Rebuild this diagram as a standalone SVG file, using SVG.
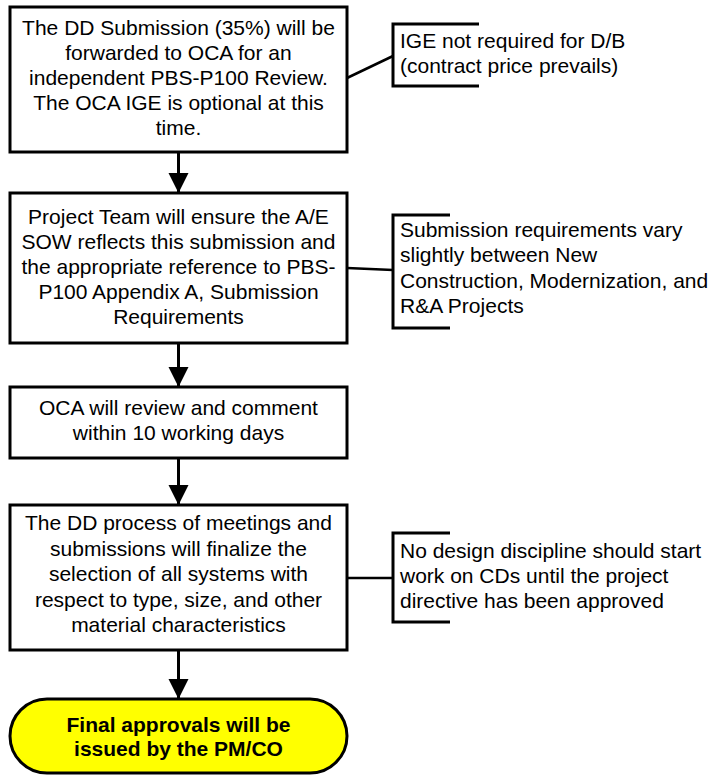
<svg xmlns="http://www.w3.org/2000/svg" width="716" height="775" viewBox="0 0 716 775">
<style>
.box{fill:#fff;stroke:#000;stroke-width:3}
.term{fill:#ffff00;stroke:#000;stroke-width:3}
.t{font-family:"Liberation Sans",Arial,sans-serif;font-size:21px;fill:#000}
.c{text-anchor:middle}
.b{font-weight:bold}
.br{fill:none;stroke:#000;stroke-width:3}
.ln{fill:none;stroke:#000;stroke-width:2.5}
.ar{fill:none;stroke:#000;stroke-width:3}
</style>
<defs>
<marker id="ah" markerUnits="userSpaceOnUse" markerWidth="22" markerHeight="22" refX="20" refY="10" orient="auto">
<path d="M0,0 L20,10 L0,20 Z" fill="#000"/>
</marker>
</defs>
<rect width="716" height="775" fill="#fff"/>
<g id="connectors">
<line class="ar" x1="178.5" y1="152" x2="178.5" y2="193" marker-end="url(#ah)"/>
<line class="ar" x1="178.5" y1="343" x2="178.5" y2="387" marker-end="url(#ah)"/>
<line class="ar" x1="178.5" y1="458" x2="178.5" y2="505" marker-end="url(#ah)"/>
<line class="ar" x1="178.5" y1="650" x2="178.5" y2="699" marker-end="url(#ah)"/>
<line class="ln" x1="347" y1="78" x2="393" y2="56"/>
<line class="ln" x1="347" y1="268" x2="393" y2="270"/>
<line class="ln" x1="347" y1="578" x2="393" y2="578"/>
</g>
<g id="n1">
<rect class="box" x="10" y="7" width="337" height="145"/>
<text class="t c" x="178.5" y="35">The DD Submission (35%) will be</text>
<text class="t c" x="178.5" y="60">forwarded to OCA for an</text>
<text class="t c" x="178.5" y="85">independent PBS-P100 Review.</text>
<text class="t c" x="178.5" y="110">The OCA IGE is optional at this</text>
<text class="t c" x="178.5" y="135">time.</text>
</g>
<g id="n2">
<rect class="box" x="10" y="193" width="337" height="150"/>
<text class="t c" x="178.5" y="223.5">Project Team will ensure the A/E</text>
<text class="t c" x="178.5" y="248.5">SOW reflects this submission and</text>
<text class="t c" x="178.5" y="273.5">the appropriate reference to PBS-</text>
<text class="t c" x="178.5" y="298.5">P100 Appendix A, Submission</text>
<text class="t c" x="178.5" y="324">Requirements</text>
</g>
<g id="n3">
<rect class="box" x="10" y="387" width="337" height="71"/>
<text class="t c" x="178.5" y="415">OCA will review and comment</text>
<text class="t c" x="178.5" y="440">within 10 working days</text>
</g>
<g id="n4">
<rect class="box" x="10" y="505" width="337" height="145"/>
<text class="t c" x="178.5" y="530">The DD process of meetings and</text>
<text class="t c" x="178.5" y="555.5">submissions will finalize the</text>
<text class="t c" x="178.5" y="581">selection of all systems with</text>
<text class="t c" x="178.5" y="606.5">respect to type, size, and other</text>
<text class="t c" x="178.5" y="632">material characteristics</text>
</g>
<g id="n5">
<rect class="term" x="10" y="699" width="337" height="74" rx="37" ry="37"/>
<text class="t c b" x="178.5" y="732">Final approvals will be</text>
<text class="t c b" x="178.5" y="756">issued by the PM/CO</text>
</g>
<g id="note1">
<path class="br" d="M479,24 H393 V86 H479"/>
<text class="t" x="400" y="48">IGE not required for D/B</text>
<text class="t" x="400" y="73">(contract price prevails)</text>
</g>
<g id="note2">
<path class="br" d="M450,215 H393 V328 H450"/>
<text class="t" x="400" y="237">Submission requirements vary</text>
<text class="t" x="400" y="262">slightly between New</text>
<text class="t" x="400" y="288">Construction, Modernization, and</text>
<text class="t" x="400" y="313">R&amp;A Projects</text>
</g>
<g id="note3">
<path class="br" d="M450,533 H393 V622 H450"/>
<text class="t" x="400" y="558">No design discipline should start</text>
<text class="t" x="400" y="583">work on CDs until the project</text>
<text class="t" x="400" y="608">directive has been approved</text>
</g>
</svg>
